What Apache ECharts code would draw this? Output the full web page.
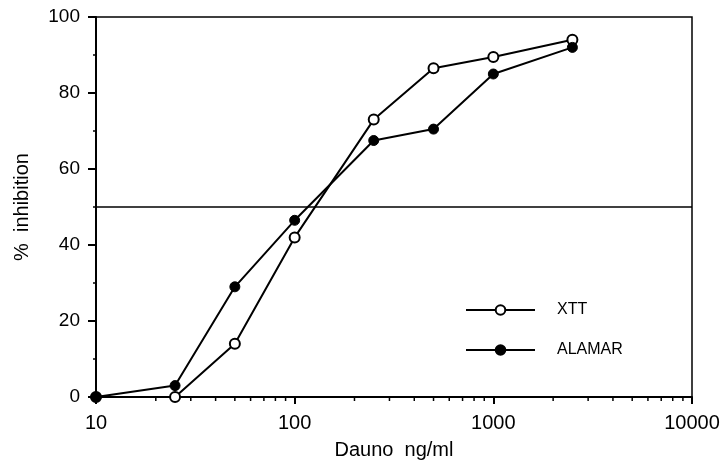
<!DOCTYPE html>
<html>
<head>
<meta charset="utf-8">
<script src="https://cdn.jsdelivr.net/npm/echarts@6/dist/echarts.min.js"></script>
<style>
  html, body { margin: 0; padding: 0; background: #fff; }
  #chart { width: 727px; height: 468px; }
</style>
</head>
<body>
<div id="chart"></div>
<script>
// Daunorubicin dose-response: % inhibition measured by two assays
const doses = [10, 25, 50, 100, 250, 500, 1000, 2500];          // ng/ml
const xttValues = [0, 0, 14, 42, 73, 86.5, 89.5, 94];
const alamarValues = [0, 3, 29, 46.5, 67.5, 70.5, 85, 92];
const halfLevel = 50;                                           // 50 % inhibition reference
const minorTicksX = [20, 30, 40, 50, 60, 70, 80, 90,
                     200, 300, 400, 500, 600, 700, 800, 900,
                     2000, 3000, 4000, 5000, 6000, 7000, 8000, 9000];

const FONT = '"Liberation Sans", Arial, Helvetica, sans-serif';
const INK = '#000';

const pairs = (xs, ys) => xs.map((x, i) => [x, ys[i]]);

const chart = echarts.init(document.getElementById('chart'), null, { renderer: 'canvas' });

chart.setOption({
  animation: false,
  backgroundColor: '#fff',
  grid: {
    left: 96, right: 35, top: 17, bottom: 71,
    show: true, borderColor: INK, borderWidth: 1.5, backgroundColor: 'transparent'
  },
  legend: {
    orient: 'vertical',
    left: 460,
    top: 297,
    itemWidth: 69,
    itemHeight: 12,
    itemGap: 24,
    textStyle: { fontFamily: FONT, fontSize: 16, color: INK, padding: [0, 0, 0, 17] },
    data: ['XTT', 'ALAMAR']
  },
  xAxis: {
    type: 'log',
    logBase: 10,
    min: 10,
    max: 10000,
    name: 'Dauno  ng/ml',
    nameLocation: 'middle',
    nameGap: 43,
    nameTextStyle: { fontFamily: FONT, fontSize: 20, color: INK },
    axisLine: { show: true, lineStyle: { color: INK, width: 2 } },
    axisTick: { show: true, length: 7, lineStyle: { color: INK, width: 2 } },
    axisLabel: {
      fontFamily: FONT, fontSize: 20, color: INK, margin: 16,
      formatter: v => String(Math.round(v))
    },
    splitLine: { show: false }
  },
  yAxis: {
    type: 'value',
    min: 0,
    max: 100,
    interval: 20,
    name: '%  inhibition',
    nameLocation: 'middle',
    nameGap: 64,
    nameRotate: 90,
    nameTextStyle: { fontFamily: FONT, fontSize: 20, color: INK },
    axisLine: { show: true, lineStyle: { color: INK, width: 2 } },
    axisTick: { show: true, length: 8, lineStyle: { color: INK, width: 2 } },
    minorTick: { show: true, splitNumber: 2, length: 3, lineStyle: { color: INK, width: 1.5 } },
    axisLabel: { fontFamily: FONT, fontSize: 19, color: INK, margin: 16 },
    splitLine: { show: false }
  },
  series: [
    {
      name: 'XTT',
      type: 'line',
      data: pairs(doses, xttValues),
      clip: false,
      symbol: 'circle',
      symbolSize: 10,
      lineStyle: { color: INK, width: 2 },
      itemStyle: { color: '#fff', borderColor: INK, borderWidth: 2 },
      z: 3,
      markLine: {
        silent: true,
        symbol: 'none',
        label: { show: false },
        lineStyle: { color: INK, width: 1.5, type: 'solid' },
        data: [{ yAxis: halfLevel }]
      }
    },
    {
      name: 'ALAMAR',
      type: 'line',
      data: pairs(doses, alamarValues),
      clip: false,
      symbol: 'circle',
      symbolSize: 10,
      lineStyle: { color: INK, width: 2 },
      itemStyle: { color: INK, borderColor: INK, borderWidth: 1 },
      z: 4
    },
    {
      // minor ticks of the logarithmic dose axis
      type: 'custom',
      silent: true,
      clip: false,
      data: minorTicksX.map(v => [v, 0]),
      renderItem: (params, api) => {
        const p = api.coord([api.value(0), 0]);
        return {
          type: 'line',
          shape: { x1: p[0], y1: p[1], x2: p[0], y2: p[1] + 4 },
          style: { stroke: INK, lineWidth: 1.5 }
        };
      },
      z: 2
    }
  ]
});
</script>
</body>
</html>
